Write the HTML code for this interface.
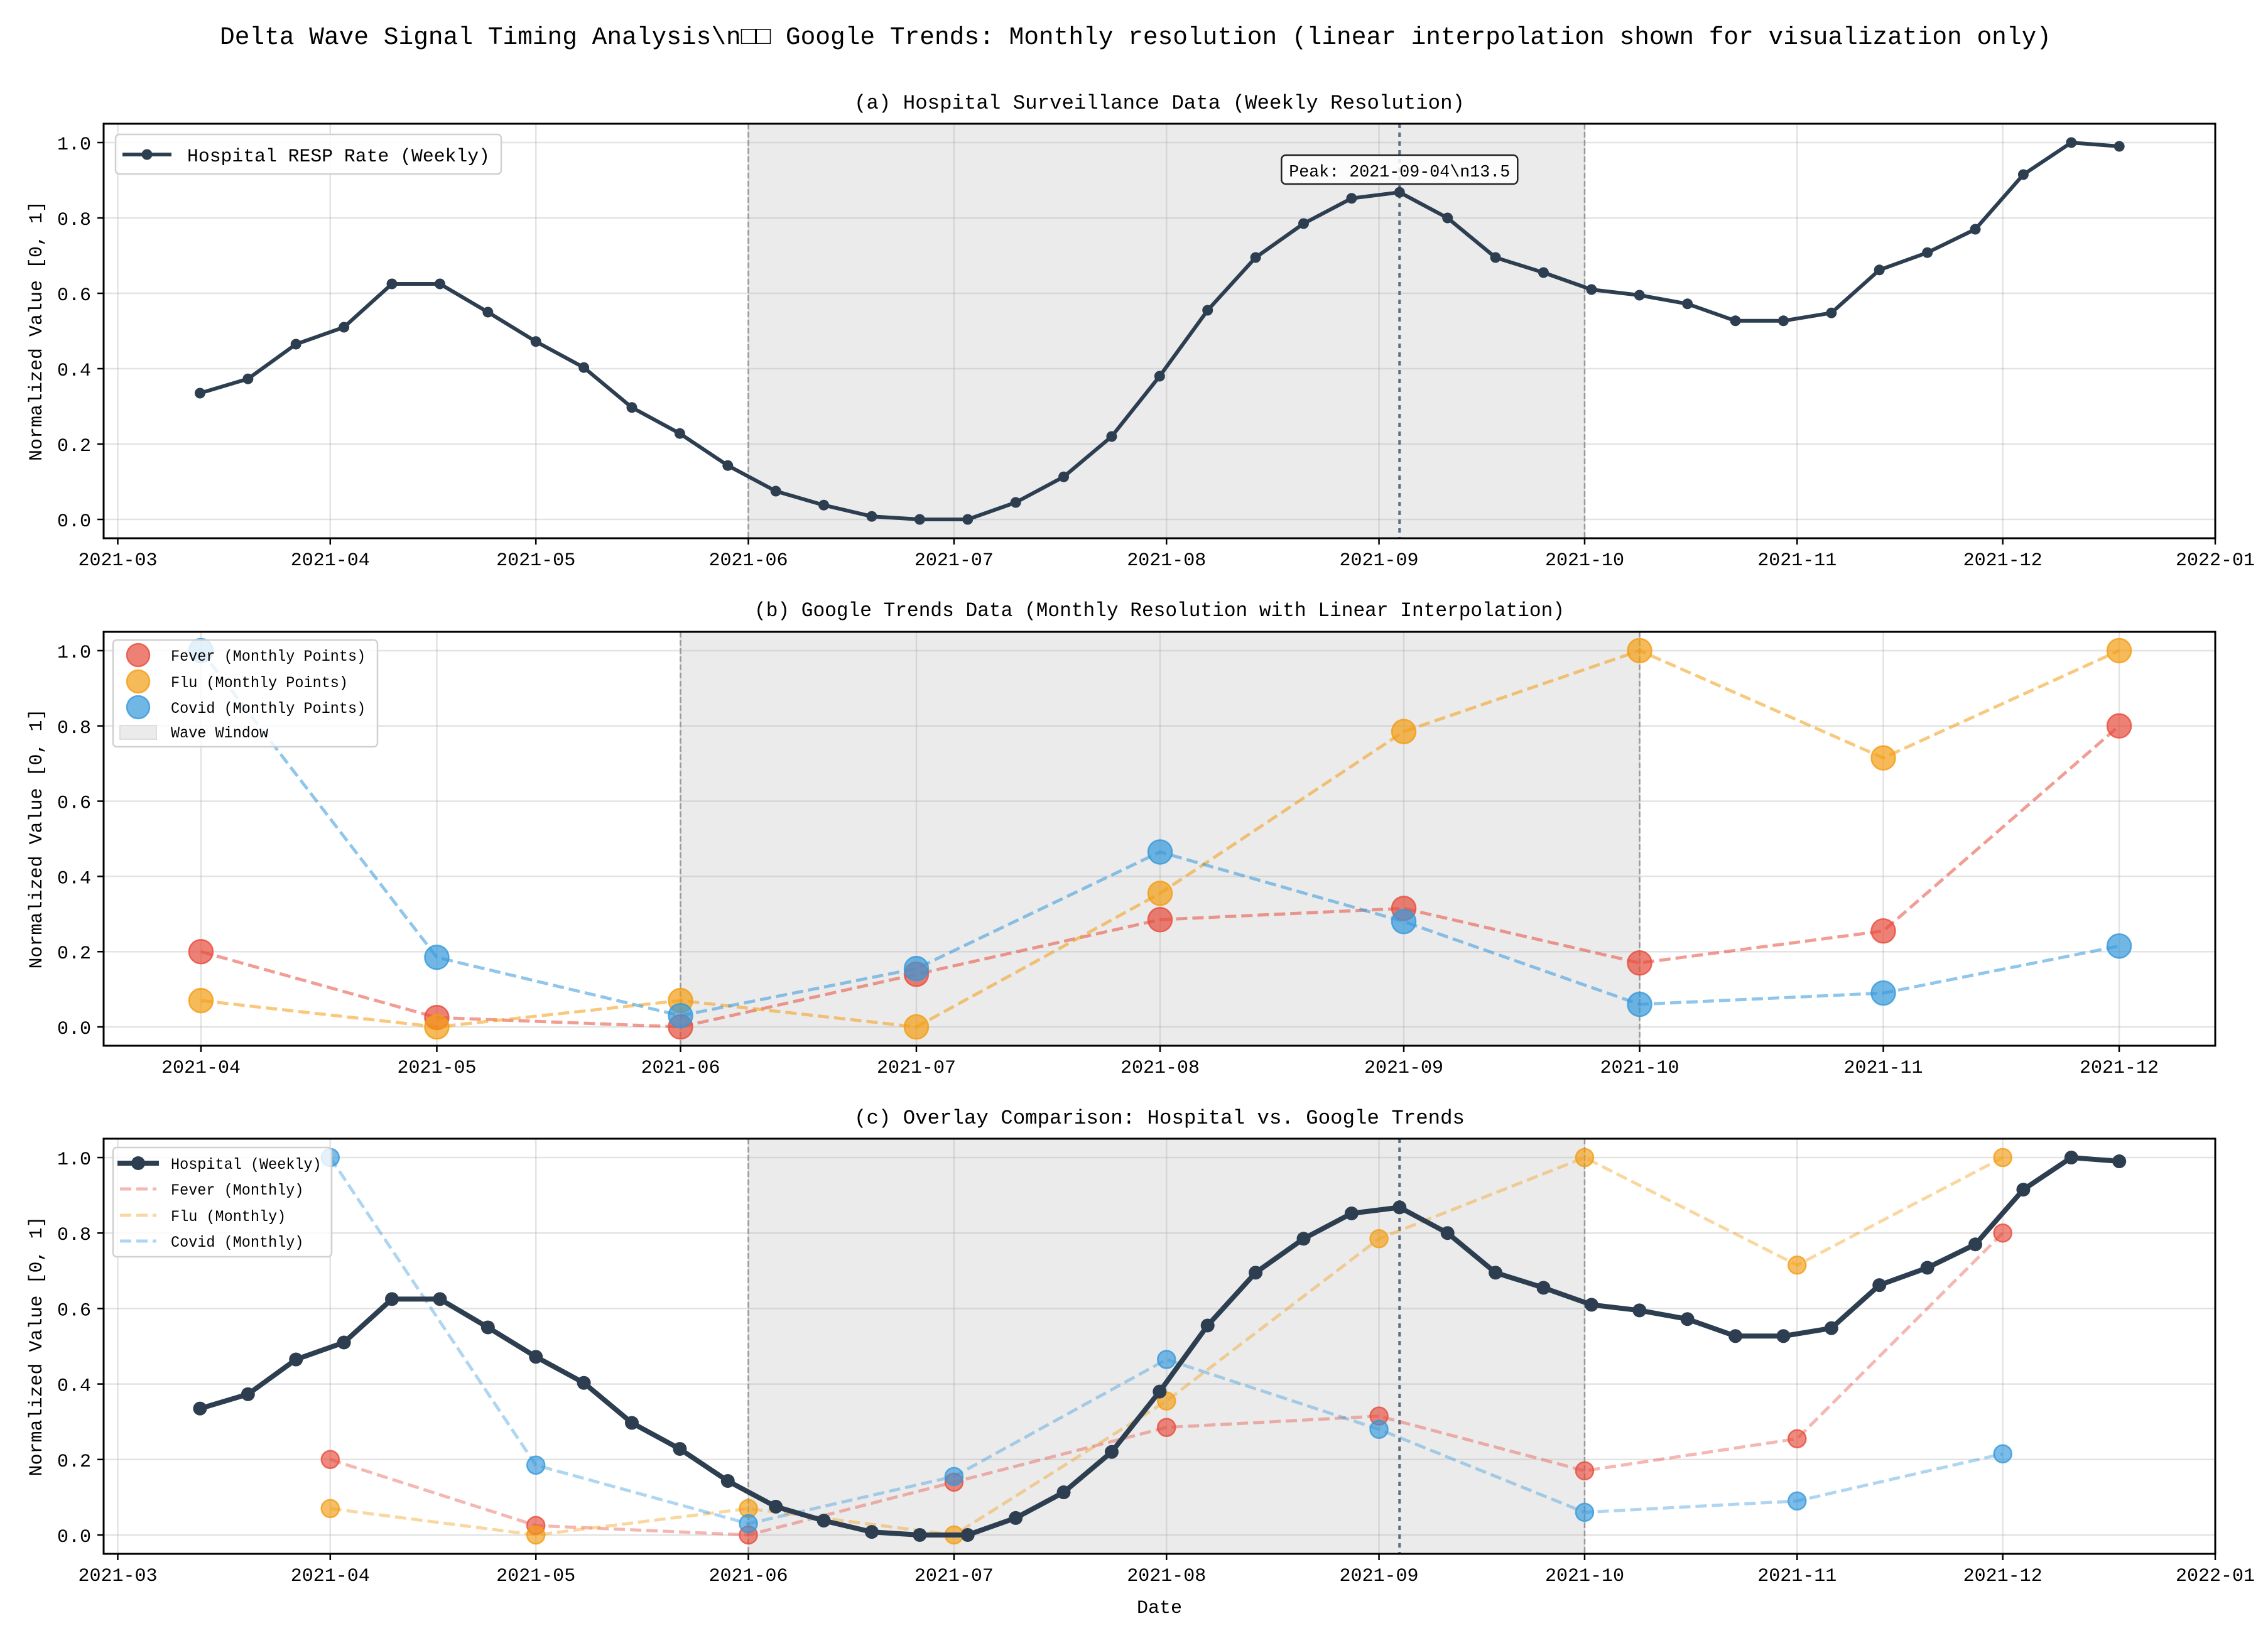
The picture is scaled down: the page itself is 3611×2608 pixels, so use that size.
<!DOCTYPE html>
<html><head><meta charset="utf-8">
<style>
html,body{margin:0;padding:0;background:#fff;}
svg{display:block;}
text{font-family:"Liberation Mono","Noto Sans CJK SC",monospace;fill:#000;}
</style></head>
<body>
<svg id="fig" xmlns="http://www.w3.org/2000/svg" width="3611" height="2608" viewBox="0 0 3611 2608">
<rect width="3611" height="2608" fill="#fff"/>
<text x="350" y="70" font-size="40" textLength="2916" lengthAdjust="spacingAndGlyphs">Delta Wave Signal Timing Analysis\n□□ Google Trends: Monthly resolution (linear interpolation shown for visualization only)</text>
<g id="root"></g>
</svg>
<script>
// ---- data ----
const hospitalStart = "2021-03-13";
const hospitalValues = [0.335,0.373,0.465,0.51,0.625,0.625,0.55,0.472,0.403,0.297,0.228,0.143,0.075,0.038,0.008,0.0,0.0,0.045,0.113,0.22,0.38,0.555,0.695,0.785,0.852,0.868,0.80,0.695,0.655,0.61,0.595,0.572,0.527,0.527,0.548,0.662,0.708,0.77,0.915,1.0,0.99];
const monthDates = ["2021-04-01","2021-05-01","2021-06-01","2021-07-01","2021-08-01","2021-09-01","2021-10-01","2021-11-01","2021-12-01"];
const feverValues = [0.20,0.025,0.0,0.14,0.285,0.315,0.17,0.255,0.80];
const fluValues = [0.07,0.0,0.07,0.0,0.355,0.785,1.0,0.715,1.0];
const covidValues = [1.0,0.185,0.03,0.155,0.465,0.28,0.06,0.09,0.215];
const waveStart = "2021-06-01";
const waveEnd = "2021-10-01";
const peakDate = "2021-09-04";
const peakLabel = "Peak: 2021-09-04\\n13.5";
const xTicksAC = ["2021-03","2021-04","2021-05","2021-06","2021-07","2021-08","2021-09","2021-10","2021-11","2021-12","2022-01"];
const xTicksB = ["2021-04","2021-05","2021-06","2021-07","2021-08","2021-09","2021-10","2021-11","2021-12"];
const yTicks = [0.0,0.2,0.4,0.6,0.8,1.0];

const C = {hosp:"#2c3e50", fever:"#e74c3c", flu:"#f39c12", covid:"#3498db"};
const NS="http://www.w3.org/2000/svg";
const root=document.getElementById('root');
function el(tag,attrs,parent){const e=document.createElementNS(NS,tag);for(const k in attrs)e.setAttribute(k,attrs[k]);(parent||root).appendChild(e);return e;}
function day(s){const p=s.split('-').map(Number);return Date.UTC(p[0],p[1]-1,p[2]||1)/86400000;}
function addDays(s,n){return day(s)+n;}

const L=165,R=3527;
const panels=[
 {id:'a',top:197,bottom:857,xmin:day("2021-03-01")-2.06,xmax:day("2022-01-01"),ticks:xTicksAC,title:"(a) Hospital Surveillance Data (Weekly Resolution)",titleY:173,titleW:972},
 {id:'b',top:1006,bottom:1665,xmin:day("2021-04-01")-12.38,xmax:day("2021-12-01")+12.22,ticks:xTicksB,title:"(b) Google Trends Data (Monthly Resolution with Linear Interpolation)",titleY:981,titleW:1290},
 {id:'c',top:1813,bottom:2474,xmin:day("2021-03-01")-2.06,xmax:day("2022-01-01"),ticks:xTicksAC,title:"(c) Overlay Comparison: Hospital vs. Google Trends",titleY:1789,titleW:972}
];
function mk(p){
 p.x=d=>L+(d-p.xmin)/(p.xmax-p.xmin)*(R-L);
 p.y=v=>p.bottom-(v+0.05)/1.1*(p.bottom-p.top);
}
panels.forEach(mk);

panels.forEach(p=>{
 const g=el('g',{});
 
 
 const ws=el('rect',{x:p.x(day(waveStart)),y:p.top,width:p.x(day(waveEnd))-p.x(day(waveStart)),height:p.bottom-p.top,fill:'#ebebeb'},g);
 
 
 yTicks.forEach(v=>{el('line',{x1:L,x2:R,y1:p.y(v),y2:p.y(v),stroke:'#b0b0b0','stroke-opacity':0.35,'stroke-width':2.5},g);});
 p.ticks.forEach(t=>{const X=p.x(day(t+"-01"));el('line',{x1:X,x2:X,y1:p.top,y2:p.bottom,stroke:'#b0b0b0','stroke-opacity':0.35,'stroke-width':2.5},g);});
 [waveStart,waveEnd].forEach(d=>{const X=p.x(day(d));const ln=el('line',{x1:X,x2:X,y1:p.top,y2:p.bottom,stroke:'#999','stroke-width':2.5,'stroke-dasharray':'9,4'},g);
  
  });
 if(p.id!=='b'){const X=p.x(day(peakDate));const pl=el('line',{x1:X,x2:X,y1:p.top,y2:p.bottom,stroke:'#5d6d7e','stroke-width':4,'stroke-dasharray':'7,7'},g);
  
  }
 const big=p.id==='b';
 const lineOp=big?0.55:0.4;
 const r=big?19:14;
 const series=[['fever',feverValues],['flu',fluValues],['covid',covidValues]];
 if(p.id!=='a'){
  series.forEach(([nm,vals])=>{
   const pts=vals.map((v,i)=>p.x(day(monthDates[i]))+','+p.y(v)).join(' ');
   const path=el('polyline',{points:pts,fill:'none',stroke:C[nm],'stroke-opacity':lineOp,'stroke-width':5,'stroke-dasharray':'18,8'},g);
   
   
  });
  series.forEach(([nm,vals])=>{
   vals.forEach((v,i)=>{const c=el('circle',{cx:p.x(day(monthDates[i])),cy:p.y(v),r:r,fill:C[nm],'fill-opacity':big?0.7:0.65,stroke:C[nm],'stroke-opacity':0.8,'stroke-width':2.5},g);
    
    });
  });
 }
 if(p.id!=='b'){
  const pts=hospitalValues.map((v,i)=>[p.x(addDays(hospitalStart,7*i)),p.y(v)]);
  const hl=el('polyline',{points:pts.map(q=>q.join(',')).join(' '),fill:'none',stroke:C.hosp,'stroke-width':p.id==='c'?8:6,'stroke-linejoin':'round'},g);
  
  
  pts.forEach(q=>{const c=el('circle',{cx:q[0],cy:q[1],r:p.id==='c'?11:8.5,fill:C.hosp},g);
   
   });
 }
 const sp=el('rect',{x:L,y:p.top,width:R-L,height:p.bottom-p.top,fill:'none',stroke:'#000','stroke-width':3},g);
 
 
 yTicks.forEach(v=>{const Y=p.y(v);el('line',{x1:L-10,x2:L,y1:Y,y2:Y,stroke:'#000','stroke-width':2.5},g);
  const t=el('text',{x:L-20,y:Y+11,'font-size':30,'text-anchor':'end'},g);t.textContent=v.toFixed(1);
  
  });
 p.ticks.forEach(tk=>{const X=p.x(day(tk+"-01"));el('line',{x1:X,x2:X,y1:p.bottom,y2:p.bottom+10,stroke:'#000','stroke-width':2.5},g);
  const t=el('text',{x:X,y:p.bottom+43,'font-size':30,'text-anchor':'middle'},g);t.textContent=tk;
  
  });
 const yl=el('text',{x:0,y:0,'font-size':30,'text-anchor':'middle',transform:`translate(66,${(p.top+p.bottom)/2}) rotate(-90)`},g);
 yl.textContent='Normalized Value [0, 1]';
 
 
 const tt=el('text',{x:(L+R)/2,y:p.titleY,'font-size':32,'text-anchor':'middle',textLength:p.titleW,lengthAdjust:'spacingAndGlyphs'},g);
 tt.textContent=p.title;
 
 
});

(function(){
 const p=panels[0];const X=p.x(day(peakDate));
 const g=el('g',{});
 
 
 el('rect',{x:X-188,y:247,width:376,height:46,rx:7,fill:'#fff','fill-opacity':0.85,stroke:'#222','stroke-width':2.5},g);
 const t=el('text',{x:X,y:281,'font-size':27,'text-anchor':'middle',textLength:352,lengthAdjust:'spacingAndGlyphs'},g);t.textContent=peakLabel;
})();

(function(){
 const g=el('g',{});
 
 
 el('rect',{x:184,y:214,width:614,height:63,rx:6,fill:'#fff','fill-opacity':0.85,stroke:'#d0d0d0','stroke-width':2.5},g);
 el('line',{x1:195,x2:273,y1:246,y2:246,stroke:C.hosp,'stroke-width':6},g);
 el('circle',{cx:234,cy:246,r:8.5,fill:C.hosp},g);
 const t=el('text',{x:298,y:257,'font-size':30,textLength:482,lengthAdjust:'spacingAndGlyphs'},g);t.textContent='Hospital RESP Rate (Weekly)';
 
 
})();
(function(){
 const g=el('g',{});
 
 
 el('rect',{x:180,y:1019,width:421,height:170,rx:6,fill:'#fff','fill-opacity':0.8,stroke:'#d0d0d0','stroke-width':2.5},g);
 const rows=[['fever','Fever (Monthly Points)',1043],['flu','Flu (Monthly Points)',1085],['covid','Covid (Monthly Points)',1126]];
 rows.forEach(([nm,lab,y])=>{el('circle',{cx:220,cy:y,r:18,fill:C[nm],'fill-opacity':0.7,stroke:C[nm],'stroke-opacity':0.8,'stroke-width':2.5},g);
  const t=el('text',{x:272,y:y+9,'font-size':25,textLength:lab.length*14.1,lengthAdjust:'spacingAndGlyphs'},g);t.textContent=lab;
  
  });
 el('rect',{x:191,y:1155,width:58,height:22,fill:'#ebebeb',stroke:'#ddd','stroke-width':2},g);
 const t=el('text',{x:272,y:1174,'font-size':25,textLength:11*14.1,lengthAdjust:'spacingAndGlyphs'},g);t.textContent='Wave Window';
 
 
})();
(function(){
 const g=el('g',{});
 
 
 el('rect',{x:180,y:1827,width:348,height:174,rx:6,fill:'#fff','fill-opacity':0.8,stroke:'#d0d0d0','stroke-width':2.5},g);
 el('line',{x1:187,x2:253,y1:1852,y2:1852,stroke:C.hosp,'stroke-width':8},g);
 el('circle',{cx:220,cy:1852,r:11,fill:C.hosp},g);
 const rows=[[null,'Hospital (Weekly)',1852],['fever','Fever (Monthly)',1893],['flu','Flu (Monthly)',1935],['covid','Covid (Monthly)',1976]];
 rows.forEach(([nm,lab,y])=>{
  if(nm)el('line',{x1:191,x2:249,y1:y,y2:y,stroke:C[nm],'stroke-opacity':0.4,'stroke-width':5,'stroke-dasharray':'18,8'},g);
  const t=el('text',{x:272,y:y+9,'font-size':25,textLength:lab.length*14.1,lengthAdjust:'spacingAndGlyphs'},g);t.textContent=lab;
  
  });
})();
(function(){
 const t=el('text',{x:(L+R)/2,y:2568,'font-size':30,'text-anchor':'middle'});t.textContent='Date';
 
 
})();
</script>
</body></html>
